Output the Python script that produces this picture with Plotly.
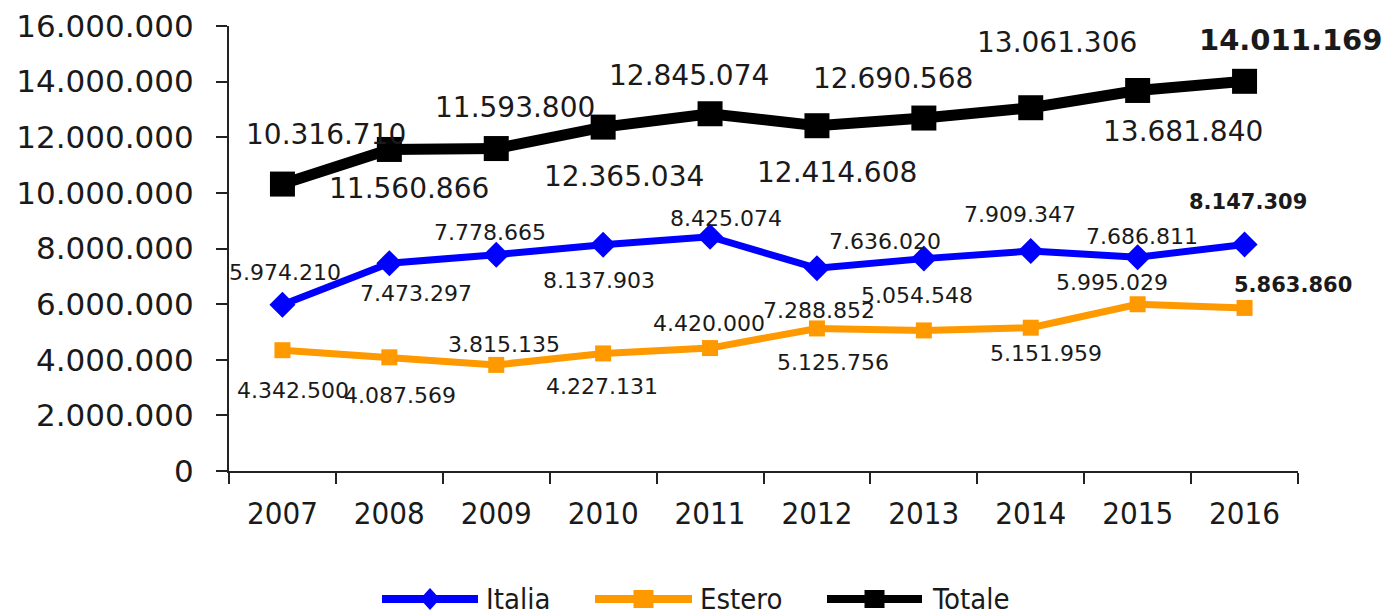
import plotly.graph_objects as go

years = ["2007", "2008", "2009", "2010", "2011", "2012", "2013", "2014", "2015", "2016"]
italia = [5974210, 7473297, 7778665, 8137903, 8425074, 7288852, 7636020, 7909347, 7686811, 8147309]
estero = [4342500, 4087569, 3815135, 4227131, 4420000, 5125756, 5054548, 5151959, 5995029, 5863860]
totale = [10316710, 11560866, 11593800, 12365034, 12845074, 12414608, 12690568, 13061306, 13681840, 14011169]
y_ticks = [0, 2000000, 4000000, 6000000, 8000000, 10000000, 12000000, 14000000, 16000000]
series_names = ["Italia", "Estero", "Totale"]

# label offsets (px) relative to each point: (xshift, yshift)
off_tot = [(44, 50), (20, -39), (19, 41), (21, -49), (-21, 38), (20, -47), (-31, 40), (26, 65), (45, -41), (46, 41)]
off_ita = [(3, 32), (27, -30), (-6, 22), (-4, -36), (16, 18), (2, -42), (-39, 17), (-11, 37), (4, 21), (3, 42)]
off_est = [(11, -40), (11, -38), (8, 20), (-1, -33), (-1, 25), (16, -34), (-7, 35), (15, -26), (-26, 22), (48, 23)]

BLUE = "#0000FF"
ORANGE = "#FF9900"
BLACK = "#000000"
TXT = "#1a1a1a"
SANS = "DejaVu Sans, Verdana, sans-serif"
COND = "DejaVu Sans Condensed, Liberation Sans Narrow, sans-serif"

# the page body adds an 8px offset; figure is sized to fit the 1389x615 window
OFF = 8
W, H = 1389 - OFF, 615 - OFF
ML, MT = 229 - OFF, 26 - OFF
PLOT_R, PLOT_B = 1298 - OFF, 471 - OFF
MR, MB = W - PLOT_R, H - PLOT_B
PW, PH = PLOT_R - ML, PLOT_B - MT


def px(x):
    return (x - OFF - ML) / PW


def py(y):
    return (PLOT_B - (y - OFF)) / PH


def fmt(v):
    return f"{v:,}".replace(",", ".")


fig = go.Figure()
fig.add_trace(go.Scatter(x=years, y=italia, name=series_names[0], mode="lines+markers",
                         line=dict(color=BLUE, width=7), showlegend=False,
                         marker=dict(symbol="diamond", size=20, color=BLUE)))
fig.add_trace(go.Scatter(x=years, y=estero, name=series_names[1], mode="lines+markers",
                         line=dict(color=ORANGE, width=7), showlegend=False,
                         marker=dict(symbol="square", size=16, color=ORANGE)))
fig.add_trace(go.Scatter(x=years, y=totale, name=series_names[2], mode="lines+markers",
                         line=dict(color=BLACK, width=11), showlegend=False,
                         marker=dict(symbol="square", size=25, color=BLACK)))

annotations = []
for series, offs, size, bsize in [(totale, off_tot, 28, 29), (italia, off_ita, 22, 21), (estero, off_est, 22, 21)]:
    n = len(series)
    for i, v in enumerate(series):
        last = i == n - 1
        annotations.append(dict(
            x=i, y=v, xref="x", yref="y", text=(f"<b>{fmt(v)}</b>" if last else fmt(v)),
            showarrow=False, xshift=offs[i][0], yshift=offs[i][1],
            font=dict(family=SANS, size=bsize if last else size, color=TXT)))

# custom legend (long line symbols like the original), screen px positions
legend_y = 599
legend_items = [
    (series_names[0], BLUE, "diamond", 382, 478, 484),
    (series_names[1], ORANGE, "square", 595, 692, 698),
    (series_names[2], BLACK, "square", 827, 922, 930),
]
shapes = []
for name, color, sym, x0, x1, tx in legend_items:
    shapes.append(dict(type="line", xref="paper", yref="paper", x0=px(x0), x1=px(x1),
                       y0=py(legend_y), y1=py(legend_y), line=dict(color=color, width=8)))
    cx = (x0 + x1) / 2
    if sym == "diamond":
        shapes.append(dict(type="path", xref="paper", yref="paper", xsizemode="pixel", ysizemode="pixel",
                           xanchor=px(cx), yanchor=py(legend_y),
                           path="M -10 0 L 0 -11 L 10 0 L 0 11 Z", fillcolor=color, line=dict(width=0)))
    else:
        shapes.append(dict(type="rect", xref="paper", yref="paper", xsizemode="pixel", ysizemode="pixel",
                           xanchor=px(cx), yanchor=py(legend_y), x0=-10, x1=10, y0=-9, y1=9,
                           fillcolor=color, line=dict(width=0)))
    annotations.append(dict(xref="paper", yref="paper", x=px(tx), y=py(legend_y), xanchor="left",
                            yanchor="middle", text=name, showarrow=False,
                            font=dict(family=COND, size=29, color=TXT)))

fig.update_layout(
    width=W, height=H,
    margin=dict(l=ML, r=MR, t=MT, b=MB, autoexpand=False),
    paper_bgcolor="white", plot_bgcolor="white",
    separators=",.",
    showlegend=False,
    annotations=annotations,
    shapes=shapes,
)
fig.update_xaxes(type="category", range=[-0.5, 9.5], tickson="boundaries",
                 showline=True, linecolor="#222", linewidth=2,
                 ticks="outside", ticklen=11, tickwidth=2, tickcolor="#222",
                 showgrid=False, zeroline=False, automargin=False,
                 tickfont=dict(family=COND, size=31, color=TXT),
                 ticklabelstandoff=14, ticklabeloverflow="allow")
fig.update_yaxes(range=[0, 16000000], tickvals=y_ticks, tickformat=",d",
                 showline=True, linecolor="#222", linewidth=2,
                 ticks="outside", ticklen=11, tickwidth=2, tickcolor="#222",
                 showgrid=False, zeroline=False, automargin=False,
                 tickfont=dict(family=SANS, size=31, color=TXT),
                 ticklabelstandoff=16, ticklabeloverflow="allow")

fig.write_html("out.html")
